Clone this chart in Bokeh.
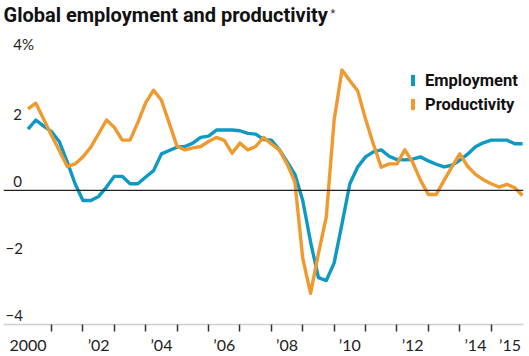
from bokeh.plotting import figure
from bokeh.models import (Range1d, FixedTicker, LinearAxis, Span, Label, Legend, LegendItem,
                          ColumnDataSource)
from bokeh.embed import file_html
from bokeh.resources import INLINE

# ---------------- data ----------------
years = list(range(2000, 2016))
quarters = [1, 2, 3, 4]

employment = [
    1.83, 2.10, 1.92, 1.75,
    1.45, 0.85, 0.20, -0.30,
    -0.30, -0.18, 0.10, 0.42,
    0.42, 0.20, 0.20, 0.40,
    0.59, 1.09, 1.19, 1.29,
    1.31, 1.41, 1.58, 1.62,
    1.80, 1.80, 1.80, 1.78,
    1.70, 1.68, 1.52, 1.50,
    1.22, 0.86, 0.48, -0.30,
    -1.54, -2.60, -2.69, -2.16,
    -1.00, 0.20, 0.70, 1.00,
    1.15, 1.21, 1.02, 0.92,
    0.91, 0.93, 1.00, 0.88,
    0.78, 0.70, 0.75, 0.90,
    1.08, 1.30, 1.42, 1.50,
    1.50, 1.50, 1.39, 1.39,
]

productivity = [
    2.43, 2.60, 2.12, 1.64,
    1.18, 0.71, 0.79, 1.00,
    1.29, 1.69, 2.10, 1.88,
    1.50, 1.50, 2.03, 2.62,
    2.99, 2.69, 2.00, 1.31,
    1.21, 1.27, 1.31, 1.46,
    1.58, 1.49, 1.11, 1.41,
    1.21, 1.31, 1.58, 1.39,
    1.21, 0.79, 0.25, -2.03,
    -3.07, -1.88, -0.79, 2.10,
    3.59, 3.27, 2.97, 2.13,
    1.38, 0.69, 0.79, 0.79,
    1.21, 0.84, 0.30, -0.12,
    -0.12, 0.30, 0.70, 1.09,
    0.72, 0.48, 0.32, 0.20,
    0.10, 0.18, 0.08, -0.15,
]

y_ticks = [4, 2, 0, -2, -4]
y_tick_labels = ["4%", "2", "0", "\u22122", "\u22124"]

x_label_pos = [2000.25, 2002.5, 2004.5, 2006.5, 2008.5, 2010.5, 2012.5, 2014.5, 2015.6]
x_labels = ["2000", "\u201902", "\u201904", "\u201906", "\u201908", "\u201910", "\u201912", "\u201914", "\u201915"]
x_tick_marks = list(range(2001, 2016))

series_names = ["Employment", "Productivity"]

# quarter-end time positions
t = [y + q / 4 for y in years for q in quarters]

BLUE = "#0c99c4"
ORANGE = "#f0992f"
NAN = float("nan")

src = ColumnDataSource(dict(t=t, emp=employment, prod=productivity))

p = figure(width=529, height=356, output_backend="svg", toolbar_location=None,
           x_range=Range1d(1999.47, 2016.03), y_range=Range1d(-4, 5.665),
           min_border_left=3, min_border_right=6, min_border_top=0, min_border_bottom=31,
           x_axis_type=None, y_axis_type=None)
p.outline_line_color = None
p.background_fill_color = "white"
p.border_fill_color = "white"

# grid
p.xgrid.visible = False
p.ygrid.ticker = FixedTicker(ticks=[v for v in y_ticks if v != 0])
p.ygrid.grid_line_color = "#cfcfcf"
p.ygrid.grid_line_width = 1.5

zero = Span(location=0, dimension="width", line_color="#222222", line_width=1.3)
p.add_layout(zero)

# x axis
xaxis = LinearAxis(ticker=FixedTicker(ticks=x_label_pos, minor_ticks=x_tick_marks))
xaxis.major_label_overrides = {pos: lab for pos, lab in zip(x_label_pos, x_labels)}
xaxis.axis_line_color = "#cfcfcf"
xaxis.axis_line_width = 1.5
xaxis.major_tick_line_color = None
xaxis.major_tick_out = 0
xaxis.major_tick_in = 0
xaxis.minor_tick_line_color = "#333333"
xaxis.minor_tick_line_width = 1.5
xaxis.minor_tick_out = 7
xaxis.minor_tick_in = 0
xaxis.major_label_standoff = 3
xaxis.major_label_text_font = "Lato"
xaxis.major_label_text_font_size = "16px"
xaxis.major_label_text_color = "#222222"
p.add_layout(xaxis, "below")

# lines
r_emp = p.line("t", "emp", source=src, line_color=BLUE, line_width=3.4, line_join="round")
r_prod = p.line("t", "prod", source=src, line_color=ORANGE, line_width=3.4, line_join="round")

# y tick labels (above grid lines, inside the plot)
for v, lab in zip(y_ticks, y_tick_labels):
    p.add_layout(Label(x=2.0 if lab.startswith("\u2212") else 9.7, x_units="screen",
                       y=v, y_units="data", y_offset=3.5, text=lab,
                       text_baseline="bottom", text_align="left",
                       text_font="Lato", text_font_size="15px", text_color="#222222"))

# legend swatches (legend-only renderers, nothing drawn in the plot)
sw_emp = p.rect(x=[NAN], y=[NAN], width=1, height=1, fill_color=BLUE, line_color=None)
sw_prod = p.rect(x=[NAN], y=[NAN], width=1, height=1, fill_color=ORANGE, line_color=None)
legend = Legend(items=[LegendItem(label=series_names[0], renderers=[sw_emp]),
                       LegendItem(label=series_names[1], renderers=[sw_prod])],
                location=(407, 210), orientation="vertical",
                glyph_width=5, glyph_height=14, label_standoff=10, spacing=4,
                padding=0, margin=0, border_line_color=None, background_fill_alpha=0,
                label_text_font="Roboto", label_text_font_style="bold",
                label_text_font_size="16.5px", label_text_color="#111111",
                label_height=20)
p.add_layout(legend)

# title
p.add_layout(Label(x=0, y=310, x_units="screen", y_units="screen",
                   text="Global employment and productivity", text_font="Roboto",
                   text_font_style="bold", text_font_size="20px", text_color="#111111",
                   text_baseline="alphabetic"))
p.add_layout(Label(x=327, y=311, x_units="screen", y_units="screen",
                   text="*", text_font="Roboto", text_font_size="11px", text_color="#333333",
                   text_baseline="alphabetic"))

open("out.html", "w").write(file_html(p, INLINE))
